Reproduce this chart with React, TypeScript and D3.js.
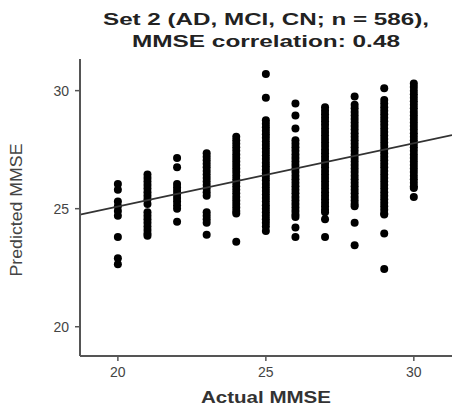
import React from "react";
import * as d3 from "d3";

const actual = [20, 21, 22, 23, 24, 25, 26, 27, 28, 29, 30];

const col20 = [26.05, 25.8, 25.3, 25.1, 24.9, 24.7, 23.8, 22.9, 22.65];
const col21 = [26.45, 26.3, 26.15, 26.0, 25.85, 25.7, 25.55, 25.4, 25.2, 24.85, 24.7, 24.55, 24.4, 24.25, 24.1, 23.95, 23.85];
const col22 = [27.15, 26.75, 26.05, 25.9, 25.75, 25.6, 25.45, 25.3, 25.15, 25.0, 24.45];
const col23 = [27.35, 27.2, 27.05, 26.9, 26.75, 26.6, 26.45, 26.3, 26.15, 26.0, 25.85, 25.7, 25.55, 24.85, 24.7, 24.55, 24.4, 23.9];
const col24 = [28.05, 27.9, 27.75, 27.6, 27.45, 27.3, 27.15, 27.0, 26.85, 26.7, 26.55, 26.4, 26.25, 26.1, 25.95, 25.8, 25.65, 25.5, 25.35, 25.2, 25.05, 24.9, 24.8, 23.6];
const col25 = [30.7, 29.7, 28.75, 28.6, 28.45, 28.3, 28.15, 28.0, 27.85, 27.7, 27.55, 27.4, 27.25, 27.1, 26.95, 26.8, 26.65, 26.5, 26.35, 26.2, 26.05, 25.9, 25.75, 25.6, 25.45, 25.3, 25.15, 25.0, 24.85, 24.7, 24.55, 24.4, 24.25, 24.05];
const col26 = [29.45, 28.95, 28.4, 27.9, 27.75, 27.6, 27.45, 27.3, 27.15, 27.0, 26.85, 26.7, 26.55, 26.4, 26.25, 26.1, 25.95, 25.8, 25.65, 25.5, 25.35, 25.2, 25.05, 24.9, 24.75, 24.65, 24.2, 23.8];
const col27 = [29.3, 29.15, 29.0, 28.85, 28.7, 28.55, 28.4, 28.25, 28.1, 27.95, 27.8, 27.65, 27.5, 27.35, 27.2, 27.05, 26.9, 26.75, 26.6, 26.45, 26.3, 26.15, 26.0, 25.85, 25.7, 25.55, 25.4, 25.25, 25.1, 24.95, 24.85, 24.55, 23.8];
const col28 = [29.75, 29.4, 29.25, 29.1, 28.95, 28.8, 28.65, 28.5, 28.35, 28.2, 28.05, 27.9, 27.75, 27.6, 27.45, 27.3, 27.15, 27.0, 26.85, 26.7, 26.55, 26.4, 26.25, 26.1, 25.95, 25.8, 25.65, 25.5, 25.35, 25.2, 25.1, 24.4, 23.45];
const col29 = [30.1, 29.6, 29.45, 29.3, 29.15, 29.0, 28.85, 28.7, 28.55, 28.4, 28.25, 28.1, 27.95, 27.8, 27.65, 27.5, 27.35, 27.2, 27.05, 26.9, 26.75, 26.6, 26.45, 26.3, 26.15, 26.0, 25.85, 25.7, 25.55, 25.4, 25.25, 25.1, 24.95, 24.8, 24.75, 23.95, 22.45];
const col30 = [30.3, 30.15, 30.0, 29.85, 29.7, 29.55, 29.4, 29.25, 29.1, 28.95, 28.8, 28.65, 28.5, 28.35, 28.2, 28.05, 27.9, 27.75, 27.6, 27.45, 27.3, 27.15, 27.0, 26.85, 26.7, 26.55, 26.4, 26.25, 26.1, 25.95, 25.88, 25.5];

const predicted = [col20, col21, col22, col23, col24, col25, col26, col27, col28, col29, col30];

const xTicks = [20, 25, 30];
const yTicks = [20, 25, 30];

const fitIntercept = 19.73;
const fitSlope = 0.268;

const titleLines = ["Set 2 (AD, MCI, CN; n = 586),", "MMSE correlation: 0.48"];
const xLabel = "Actual MMSE";
const yLabel = "Predicted MMSE";

export default function App() {
  const W = 452;
  const H = 408;
  const left = 80;
  const right = 452;
  const top = 59;
  const bottom = 356;

  const x = d3.scaleLinear().domain([18.72, 31.29]).range([left, right]);
  const y = d3.scaleLinear().domain([18.76, 31.34]).range([bottom, top]);

  const points: { a: number; p: number }[] = [];
  actual.forEach((a, i) => predicted[i].forEach((p) => points.push({ a, p })));

  const [x0, x1] = x.domain();
  const line = d3
    .line<number>()
    .x((d) => x(d))
    .y((d) => y(fitIntercept + fitSlope * d));

  const font = "'Liberation Sans', Arial, Helvetica, sans-serif";

  return (
    <svg
      width={W}
      height={H}
      style={{ position: "absolute", left: 0, top: 0, background: "#fff" }}
      fontFamily={font}
    >
      <rect width={W} height={H} fill="#fff" />
      {titleLines.map((t, i) => (
        <text
          key={i}
          x={266}
          y={25 + i * 22}
          textAnchor="middle"
          fontWeight="bold"
          fontSize={17}
          fill="#222"
          textLength={i === 0 ? 326 : 268}
          lengthAdjust="spacingAndGlyphs"
        >
          {t}
        </text>
      ))}
      {points.map((d, i) => (
        <circle key={i} cx={x(d.a)} cy={y(d.p)} r={4} fill="#000" />
      ))}
      <path d={line([x0, x1]) || ""} stroke="#333" strokeWidth={1.6} fill="none" />
      <line x1={left} x2={left} y1={top} y2={bottom} stroke="#555" strokeWidth={2} />
      <line x1={left} x2={right} y1={bottom} y2={bottom} stroke="#555" strokeWidth={2} />
      {yTicks.map((t) => (
        <g key={t}>
          <line x1={left - 5} x2={left} y1={y(t)} y2={y(t)} stroke="#555" strokeWidth={1.5} />
          <text x={69} y={y(t)} dy="0.35em" textAnchor="end" fontSize={14} fill="#444">
            {t}
          </text>
        </g>
      ))}
      {xTicks.map((t) => (
        <g key={t}>
          <line x1={x(t)} x2={x(t)} y1={bottom} y2={bottom + 5} stroke="#555" strokeWidth={1.5} />
          <text x={x(t)} y={377} textAnchor="middle" fontSize={14} fill="#444">
            {t}
          </text>
        </g>
      ))}
      <text
        x={266}
        y={403}
        textAnchor="middle"
        fontWeight="bold"
        fontSize={17}
        fill="#333"
        textLength={130}
        lengthAdjust="spacingAndGlyphs"
      >
        {xLabel}
      </text>
      <text
        transform="translate(22,210) rotate(-90)"
        textAnchor="middle"
        fontSize={17}
        fill="#444"
        textLength={133}
        lengthAdjust="spacingAndGlyphs"
      >
        {yLabel}
      </text>
    </svg>
  );
}
